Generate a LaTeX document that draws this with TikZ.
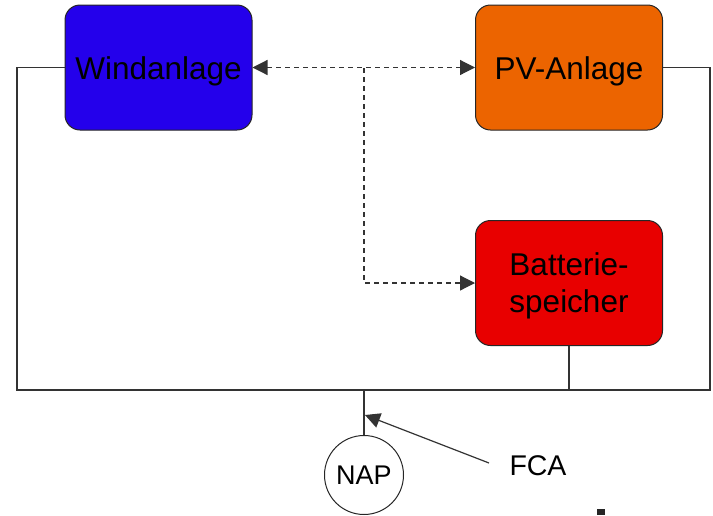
\documentclass[tikz,border=0pt]{standalone}
\usepackage{fontspec}
\setmainfont{Liberation Sans}
\usetikzlibrary{arrows.meta,calc}
\definecolor{windblue}{RGB}{36,0,235}
\definecolor{pvorange}{RGB}{236,100,0}
\definecolor{batred}{RGB}{232,0,0}
\begin{document}
\begin{tikzpicture}[x=1pt,y=-1pt,
  unitbox/.style={draw=black!85,line width=1pt,rounded corners=15pt,minimum width=187pt,minimum height=125pt,inner sep=0pt,align=center,font=\fontsize{31.5}{37}\selectfont,text height=23pt,text depth=0pt},
  wire/.style={draw=black!80,line width=1.2pt},
  dashline/.style={draw=black!80,line width=1.2pt,dash pattern=on 5pt off 4pt},
  tip/.style={-{Triangle[length=15pt,width=15pt]}},
  tips/.style={{Triangle[length=15pt,width=15pt]}-{Triangle[length=15pt,width=15pt]}}]
\useasboundingbox (0,0) rectangle (713,515);
\node[unitbox,fill=windblue] (wind) at (158.5,67.5) {Windanlage};
\node[unitbox,fill=pvorange] (pv) at (569,67.5) {PV-Anlage};
\node[unitbox,fill=batred,text height=60pt,text depth=2pt] (bat) at (569,283) {Batterie-\\speicher};
\node[draw=black!85,line width=1pt,circle,minimum size=79pt,inner sep=0pt,font=\fontsize{27}{30}\selectfont] (nap) at (364,475) {NAP};
\node[font=\fontsize{28.5}{32}\selectfont,inner sep=0pt] (fca) at (538,466) {FCA};
\coordinate (bl) at (17,390);
\coordinate (br) at (710,390);
\coordinate (j) at (364,390);
\coordinate (dj) at (364,68);
\coordinate (ftip) at (365,415);
\coordinate (fstart) at (489,463);
\draw[wire] (wind.west) -| (bl) -- (br) |- (pv.east);
\draw[wire] (bat.south) -- (bat.south |- bl);
\draw[wire] (j) -- (nap.north);
\draw[dashline,tips] (wind.east) -- (pv.west);
\draw[dashline,tip] (dj) |- (bat.west);
\draw[wire,tip] (fstart) -- (ftip);
\fill[black!85] (597,509) rectangle (605,515);
\end{tikzpicture}
\end{document}
